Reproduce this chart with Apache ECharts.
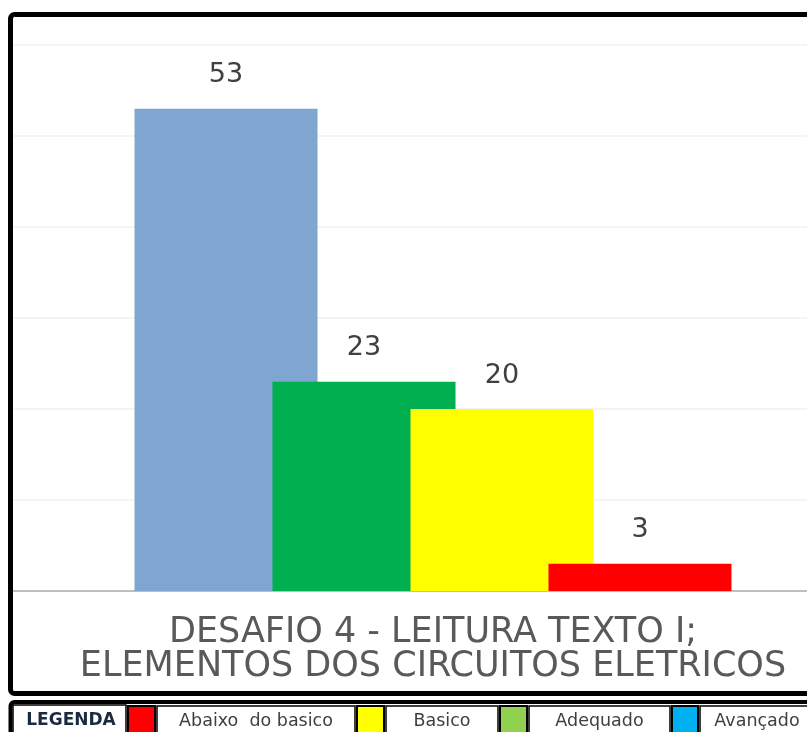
<!DOCTYPE html>
<html>
<head>
<meta charset="utf-8">
<script src="https://cdn.jsdelivr.net/npm/echarts@6/dist/echarts.min.js"></script>
<style>
  html, body { margin: 0; padding: 0; background: #fff; }
  #chart { width: 807px; height: 732px; }
</style>
</head>
<body>
<div id="chart"></div>
<script>
// dados do grafico
const categories = ['DESAFIO 4 - LEITURA TEXTO I;\nELEMENTOS DOS CIRCUITOS ELETRICOS'];
const seriesNames = ['Avançado', 'Adequado', 'Basico', 'Abaixo do basico'];
const seriesValues = [53, 23, 20, 3];
const seriesColors = ['#7FA5D1', '#00B050', '#FFFF00', '#FF0000'];

// legenda (tabela embaixo)
const legendTitle = 'LEGENDA';
const legendLabels = ['Abaixo  do basico', 'Basico', 'Adequado', 'Avançado'];
const legendColors = ['#FF0000', '#FFFF00', '#92D050', '#00B0F0'];

const chart = echarts.init(document.getElementById('chart'));

// caixas da legenda: [x inicio, x fim] de cada celula
const swatchCells = [[128, 155], [357, 384], [500, 527], [672, 698]];
const textCells = [[157, 355], [386, 498], [529, 670], [700, 814]];

const graphic = [
  // moldura do grafico
  { type: 'rect', z: 100, shape: { x: 10.5, y: 14.5, width: 860, height: 679, r: 4 },
    style: { fill: 'none', stroke: '#000', lineWidth: 5 } },
  // moldura da legenda
  { type: 'rect', z: 100, shape: { x: 10.5, y: 702, width: 860, height: 80, r: 4 },
    style: { fill: 'none', stroke: '#000', lineWidth: 4 } },
  { type: 'rect', z: 99, shape: { x: 13, y: 705, width: 113, height: 40 },
    style: { fill: '#fff', stroke: '#000', lineWidth: 1.5 } },
  { type: 'text', z: 101, x: 71, y: 721,
    style: { text: legendTitle, fontFamily: 'DejaVu Sans', fontWeight: 'bold', fontSize: 17,
      fill: '#1a2a40', align: 'center', verticalAlign: 'middle' } }
];
legendLabels.forEach((lbl, i) => {
  const s = swatchCells[i], t = textCells[i];
  graphic.push({ type: 'rect', z: 99, shape: { x: s[0], y: 706, width: s[1] - s[0], height: 40 },
    style: { fill: legendColors[i], stroke: '#000', lineWidth: 2 } });
  graphic.push({ type: 'rect', z: 99, shape: { x: t[0], y: 706, width: t[1] - t[0], height: 40 },
    style: { fill: '#fff', stroke: '#000', lineWidth: 1.5 } });
  graphic.push({ type: 'text', z: 101, x: (t[0] + t[1]) / 2, y: 721,
    style: { text: lbl, fontFamily: 'DejaVu Sans', fontSize: 17.5, fill: '#3f3f3f',
      align: 'center', verticalAlign: 'middle' } });
});

// grade 0: linhas de fundo e eixo; grade 1: barras (deslocadas para a direita)
const option = {
  backgroundColor: '#fff',
  animation: false,
  grid: [
    { left: 13, right: 0, top: 45, bottom: 141 },
    { left: 59, right: 0, top: 45, bottom: 141 }
  ],
  xAxis: [{
    type: 'category',
    gridIndex: 0,
    data: [''],
    axisTick: { show: false },
    axisLabel: { show: false },
    axisLine: { lineStyle: { color: '#BFBFBF', width: 2 } }
  }, {
    type: 'category',
    gridIndex: 1,
    data: categories,
    axisTick: { show: false },
    axisLine: { show: false },
    axisLabel: {
      margin: 25,
      fontFamily: 'DejaVu Sans',
      fontSize: 35,
      lineHeight: 34,
      color: '#595959'
    }
  }],
  yAxis: [{
    type: 'value',
    gridIndex: 0,
    min: 0,
    max: 60,
    interval: 10,
    axisLabel: { show: false },
    axisLine: { show: false },
    axisTick: { show: false },
    splitLine: { lineStyle: { color: '#F0F0F0', width: 1.5 } }
  }, {
    type: 'value',
    gridIndex: 1,
    min: 0,
    max: 60,
    interval: 10,
    axisLabel: { show: false },
    axisLine: { show: false },
    axisTick: { show: false },
    splitLine: { show: false }
  }],
  series: seriesNames.map((name, i) => ({
    name: name,
    type: 'bar',
    xAxisIndex: 1,
    yAxisIndex: 1,
    data: [seriesValues[i]],
    barWidth: 183,
    barGap: '-24.6%',
    itemStyle: { color: seriesColors[i] },
    label: {
      show: true,
      position: 'top',
      distance: 20,
      fontFamily: 'DejaVu Sans',
      fontSize: 27,
      color: '#404040'
    }
  })),
  graphic: graphic
};

chart.setOption(option);
</script>
</body>
</html>
